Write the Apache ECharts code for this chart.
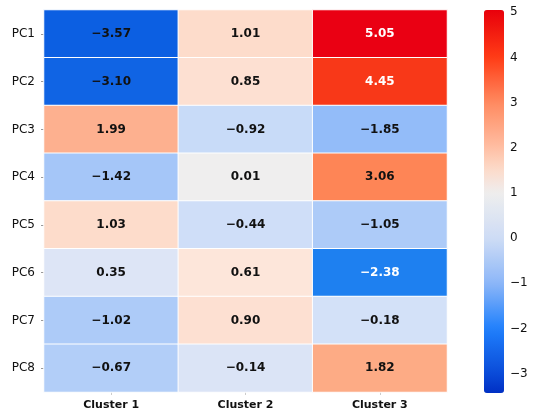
<!DOCTYPE html>
<html>
<head>
<meta charset="utf-8">
<script src="https://cdn.jsdelivr.net/npm/echarts@6/dist/echarts.min.js"></script>
<style>
    html, body { margin: 0; padding: 0; background: #fff; }
    #chart { width: 550px; height: 419px; }
</style>
</head>
<body>
<div id="chart"></div>
<script>
var clusters = ['Cluster 1', 'Cluster 2', 'Cluster 3'];
var components = ['PC1', 'PC2', 'PC3', 'PC4', 'PC5', 'PC6', 'PC7', 'PC8'];
var cluster1 = [-3.57, -3.10, 1.99, -1.42, 1.03, 0.35, -1.02, -0.67];
var cluster2 = [1.01, 0.85, -0.92, 0.01, -0.44, 0.61, 0.90, -0.14];
var cluster3 = [5.05, 4.45, -1.85, 3.06, -1.05, -2.38, -0.18, 1.82];
// colorbar range
var barMin = -3.42;
var barMax = 5.05;

var FONT = 'DejaVu Sans';

function fmt(v) {
    return v.toFixed(2).replace('-', '\u2212');
}

// colorbar gradient stops [value, color]
var barStops = [
    [-3.42, '#0030c4'], [-3, '#0a4ad8'], [-2, '#1f80fc'], [-1, '#8cb6f8'],
    [0, '#cedcf5'], [1, '#eeeeee'], [1.5, '#fcdccc'], [2, '#ffbfa4'],
    [3, '#ff8a60'], [4, '#ff3c16'], [5.05, '#e8000b']
];
function hex2rgb(h) {
    return [parseInt(h.substr(1, 2), 16), parseInt(h.substr(3, 2), 16), parseInt(h.substr(5, 2), 16)];
}
function colorAt(v) {
    for (var i = 1; i < barStops.length; i++) {
        if (v <= barStops[i][0] || i == barStops.length - 1) {
            var a = barStops[i - 1], b = barStops[i];
            var t = Math.max(0, Math.min(1, (v - a[0]) / (b[0] - a[0])));
            var ca = hex2rgb(a[1]), cb = hex2rgb(b[1]);
            return 'rgb(' + ca.map(function (c, k) { return Math.round(c + (cb[k] - c) * t); }).join(',') + ')';
        }
    }
}
var barColors = [];
for (var i = 0; i <= 40; i++) {
    barColors.push(colorAt(barMin + (barMax - barMin) * i / 40));
}

var cols = [cluster1, cluster2, cluster3];
var cells = [];
for (var c = 0; c < cols.length; c++) {
    for (var r = 0; r < components.length; r++) {
        var v = cols[c][r];
        var white = v > 4 || (v < -2 && v > -3);
        cells.push({
            value: [c, r, v],
            label: { color: white ? '#ffffff' : '#111111' }
        });
    }
}

var chart = echarts.init(document.getElementById('chart'));
var option = {
    animation: false,
    grid: [
        { left: 44, top: 10, width: 403, height: 382 },
        { left: 484, top: 12.3, width: 20, height: 361.4 }
    ],
    xAxis: [{
        type: 'category',
        data: clusters,
        gridIndex: 0,
        axisLine: { show: false },
        axisTick: { show: true, alignWithLabel: true, length: 3, lineStyle: { color: '#ccc' } },
        axisLabel: { fontFamily: FONT, fontWeight: 'bold', fontSize: 11, color: '#111', margin: 8 },
        splitLine: { show: false }
    }, {
        type: 'value',
        gridIndex: 1,
        show: false
    }],
    yAxis: [{
        type: 'category',
        data: components,
        inverse: true,
        gridIndex: 0,
        axisLine: { show: false },
        axisTick: { show: true, alignWithLabel: true, length: 3, lineStyle: { color: '#999' } },
        axisLabel: { fontFamily: FONT, fontSize: 12, color: '#111', margin: 9 },
        splitLine: { show: false }
    }, {
        type: 'value',
        gridIndex: 1,
        position: 'right',
        min: -3,
        max: 5,
        interval: 1,
        axisLine: { show: false },
        axisTick: { show: true, length: 3.5, lineStyle: { color: '#333' } },
        axisLabel: {
            fontFamily: FONT, fontSize: 12, color: '#111', margin: 6,
            formatter: function (v) { return String(v).replace('-', '\u2212'); }
        },
        splitLine: { show: false }
    }],
    visualMap: [{
        type: 'piecewise',
        show: false,
        seriesIndex: 0,
        dimension: 2,
        pieces: [
            { lt: -3.3, color: '#0c5fe2' },
            { gte: -3.3, lt: -2.9, color: '#1064e4' },
            { gte: -2.9, lt: -2.1, color: '#1e80f0' },
            { gte: -2.1, lt: -1.6, color: '#93bcf9' },
            { gte: -1.6, lt: -1.3, color: '#a5c6f8' },
            { gte: -1.3, lt: -0.95, color: '#adcbf8' },
            { gte: -0.95, lt: -0.8, color: '#c8dbf8' },
            { gte: -0.8, lt: -0.55, color: '#b2cef8' },
            { gte: -0.55, lt: -0.3, color: '#cfdef8' },
            { gte: -0.3, lt: -0.16, color: '#d3e1f8' },
            { gte: -0.16, lt: -0.05, color: '#dbe4f6' },
            { gte: -0.05, lt: 0.2, color: '#efeeee' },
            { gte: 0.2, lt: 0.5, color: '#dde5f6' },
            { gte: 0.5, lt: 0.75, color: '#fde6da' },
            { gte: 0.75, lt: 0.95, color: '#fde0d2' },
            { gte: 0.95, lt: 1.5, color: '#fddccb' },
            { gte: 1.5, lt: 1.9, color: '#fdab85' },
            { gte: 1.9, lt: 2.5, color: '#fdb08f' },
            { gte: 2.5, lt: 3.5, color: '#fe8556' },
            { gte: 3.5, lt: 4.8, color: '#f83818' },
            { gte: 4.8, color: '#ea0013' }
        ]
    }, {
        type: 'continuous',
        show: true,
        seriesIndex: 1,
        min: barMin,
        max: barMax,
        calculable: false,
        left: 484,
        top: 10,
        itemWidth: 20,
        itemHeight: 383,
        text: ['', ''],
        textGap: 0,
        padding: 0,
        inRange: { color: barColors }
    }],
    series: [{
        type: 'heatmap',
        xAxisIndex: 0,
        yAxisIndex: 0,
        data: cells,
        itemStyle: { borderColor: '#ffffff', borderWidth: 1 },
        label: {
            show: true,
            fontFamily: FONT,
            fontWeight: 'bold',
            fontSize: 12,
            formatter: function (p) { return fmt(p.value[2]); }
        },
        emphasis: { disabled: true }
    }, {
        type: 'scatter',
        xAxisIndex: 1,
        yAxisIndex: 1,
        data: []
    }]
};
chart.setOption(option);
</script>
</body>
</html>
